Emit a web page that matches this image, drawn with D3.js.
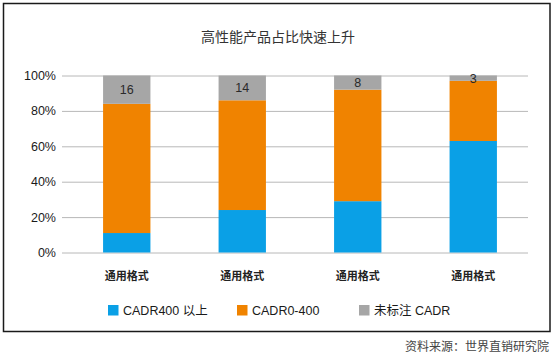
<!DOCTYPE html>
<html><head><meta charset="utf-8">
<script src="https://cdn.jsdelivr.net/npm/d3@7"></script>
<style>
body{margin:0;background:#fff;}
svg{display:block;}
</style></head>
<body><svg id="c" width="556" height="356"></svg>
<script>
const categories = ["通用格式","通用格式","通用格式","通用格式"];
const seriesNames = ["CADR400 以上","CADR0-400","未标注 CADR"];
const cadrHigh = [11, 24, 29, 63];
const cadrMid = [73, 62, 63, 34];
const unmarked = [16, 14, 8, 3];
const yTicks = [0, 20, 40, 60, 80, 100];
const colors = ["#0aa0e6", "#f08300", "#a6a6a6"];

const svg = d3.select("#c");
const font = "'Noto Sans CJK SC', 'Liberation Sans', Arial, sans-serif";
const latin = "'Liberation Sans', 'Noto Sans CJK SC', Arial, sans-serif";

// outer frame
svg.append("rect").attr("x",3.5).attr("y",3.5).attr("width",546.5).attr("height",328)
  .attr("fill","#fff").attr("stroke","#1a1a1a").attr("stroke-width",1.5);

// title
svg.append("text").attr("x",278).attr("y",42).attr("text-anchor","middle")
  .attr("font-family",font).attr("font-size",14).attr("fill","#333")
  .text("高性能产品占比快速上升");

const y = d3.scaleLinear().domain([0,100]).range([252.5,75.5]);
const x = d3.scaleBand().domain(d3.range(categories.length)).range([69,531]).paddingInner(0.59).paddingOuter(0.295);

// gridlines + y axis
const yAxis = d3.axisLeft(y).tickValues(yTicks).tickFormat(d => d + "%").tickSize(-466).tickPadding(6);
const ga = svg.append("g").attr("transform","translate(62,0)").call(yAxis);
ga.select(".domain").remove();
ga.selectAll(".tick line").attr("stroke","#b8b8b8").attr("stroke-width",1);
ga.selectAll(".tick text").attr("font-family",latin).attr("font-size",12.5).attr("fill","#1a1a1a").attr("x",-6);

// stacked data
const rows = categories.map((c,i) => ({i, a: cadrHigh[i], b: cadrMid[i], c: unmarked[i]}));
const stack = d3.stack().keys(["a","b","c"])(rows);

svg.append("g").selectAll("g").data(stack).join("g")
  .attr("fill",(d,k)=>colors[k])
  .selectAll("rect").data(d=>d).join("rect")
  .attr("x",d=>x(d.data.i)).attr("width",x.bandwidth())
  .attr("y",d=>y(d[1])).attr("height",d=>y(d[0])-y(d[1]));

// labels on gray segment
svg.append("g").selectAll("text").data(stack[2]).join("text")
  .attr("x",d=>x(d.data.i)+x.bandwidth()/2)
  .attr("y",d=>(y(d[0])+y(d[1]))/2 + 4.5)
  .attr("text-anchor","middle")
  .attr("font-family",latin).attr("font-size",12.5)
  .attr("fill","#2a2a2a")
  .text(d=>d.data.c);

// category labels
svg.append("g").selectAll("text").data(categories).join("text")
  .attr("x",(d,i)=>x(i)+x.bandwidth()/2).attr("y",280)
  .attr("text-anchor","middle").attr("font-family",font).attr("font-size",11)
  .attr("font-weight",600)
  .attr("fill","#222").text(d=>d);

// legend
const legX = [108, 237, 359];
const lg = svg.append("g").selectAll("g").data(seriesNames).join("g")
  .attr("transform",(d,i)=>`translate(${legX[i]},305)`);
lg.append("rect").attr("width",10.5).attr("height",10.5).attr("fill",(d,i)=>colors[i]);
lg.append("text").attr("x",15).attr("y",10).attr("font-family",latin)
  .attr("font-size",12.5).attr("fill","#1a1a1a").text(d=>d);

// source
svg.append("text").attr("x",549).attr("y",351).attr("text-anchor","end")
  .attr("font-family",font).attr("font-size",12).attr("fill","#444")
  .text("资料来源：世界直销研究院");
</script></body></html>
